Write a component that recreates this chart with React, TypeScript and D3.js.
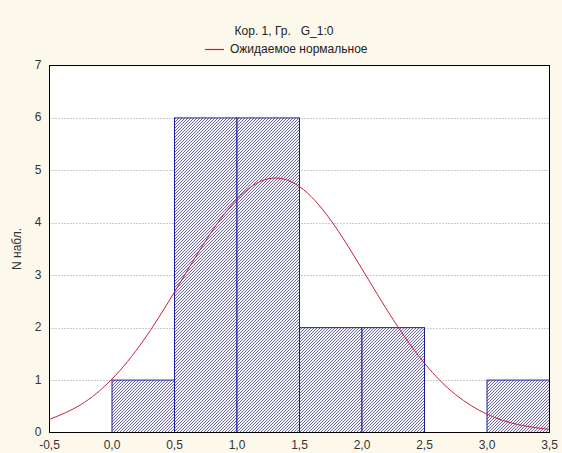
import React from "react";
import * as d3 from "d3";

const binStarts = [0.0, 0.5, 1.0, 1.5, 2.0, 2.5, 3.0];
const binWidth = 0.5;
const counts = [1, 6, 6, 2, 2, 0, 1];

const curveX = [-0.5, -0.25, 0, 0.25, 0.5, 0.75, 1.0, 1.25, 1.5, 1.75, 2.0, 2.25, 2.5, 2.75, 3.0, 3.25, 3.5];
const curveY = [0.25, 0.53, 1.02, 1.75, 2.68, 3.66, 4.45, 4.84, 4.69, 4.05, 3.12, 2.15, 1.32, 0.72, 0.35, 0.15, 0.06];

const xTicks = [-0.5, 0, 0.5, 1, 1.5, 2, 2.5, 3, 3.5];
const yTicks = [0, 1, 2, 3, 4, 5, 6, 7];

const title = "Кор. 1, Гр.   G_1:0";
const legendLabel = "Ожидаемое нормальное";
const yLabel = "N набл.";

const W = 562, H = 453;
const L = 49.5, R = 549.5, T = 65.5, B = 432.5;

export default function App() {
  const x = d3.scaleLinear().domain([-0.5, 3.5]).range([L, R]);
  const y = d3.scaleLinear().domain([0, 7]).range([B, T]);
  const line = d3
    .line<number>()
    .x((_, i) => x(curveX[i]))
    .y((d) => y(d))
    .curve(d3.curveNatural);
  const fmt = (v: number) => v.toFixed(1).replace(".", ",");
  const font = "'Liberation Sans', Arial, sans-serif";
  return (
    <svg width={W} height={H} style={{ position: "absolute", left: 0, top: 0 }} fontFamily={font}>
      <defs>
        <pattern id="hatch" patternUnits="userSpaceOnUse" width={3} height={3}>
          <rect width={3} height={3} fill="#f4f4fa" />
          <path d="M-0.75,0.75 L0.75,-0.75 M0,3 L3,0 M2.25,3.75 L3.75,2.25" stroke="#4a4a86" strokeWidth={0.8} />
        </pattern>
        <clipPath id="plot">
          <rect x={L} y={T} width={R - L} height={B - T} />
        </clipPath>
      </defs>
      <rect width={W} height={H} fill="#fdf8ec" />
      <rect x={L} y={T} width={R - L} height={B - T} fill="#ffffff" />
      {yTicks.slice(1, -1).map((t) => (
        <line key={t} x1={L} x2={R} y1={Math.round(y(t)) + 0.5} y2={Math.round(y(t)) + 0.5} stroke="#999" strokeDasharray="1,2" />
      ))}
      {binStarts.map((s, i) =>
        counts[i] > 0 ? (
          <rect
            key={s}
            x={x(s)}
            y={y(counts[i])}
            width={x(s + binWidth) - x(s)}
            height={y(0) - y(counts[i])}
            fill="url(#hatch)"
            stroke="#1c1ca0"
            strokeWidth={1}
          />
        ) : null
      )}
      <path d={line(curveY) || ""} fill="none" stroke="#c8203c" strokeWidth={1} clipPath="url(#plot)" />
      <rect x={L} y={T} width={R - L} height={B - T} fill="none" stroke="#000" strokeWidth={1} />
      {yTicks.map((t) => (
        <text key={t} x={L - 8} y={y(t) + 3.5} textAnchor="end" fontSize={12} fill="#333">
          {t}
        </text>
      ))}
      {xTicks.map((t) => (
        <text key={t} x={x(t)} y={B + 16.5} textAnchor="middle" fontSize={12} fill="#333">
          {fmt(t)}
        </text>
      ))}
      <text
        transform={`translate(21,${(T + B) / 2}) rotate(-90)`}
        textAnchor="middle"
        fontSize={12}
        fill="#333"
      >
        {yLabel}
      </text>
      <text x={284} y={35} textAnchor="middle" fontSize={12} fill="#222" style={{ whiteSpace: "pre" }}>
        {title}
      </text>
      <line x1={205} x2={224} y1={49.5} y2={49.5} stroke="#c8203c" strokeWidth={1.2} />
      <text x={230} y={53} fontSize={12} fill="#222">
        {legendLabel}
      </text>
    </svg>
  );
}
